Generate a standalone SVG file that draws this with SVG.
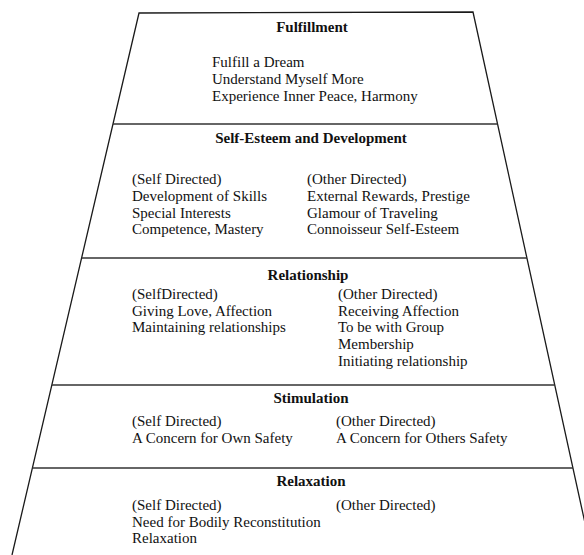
<svg xmlns="http://www.w3.org/2000/svg" width="584" height="555" viewBox="0 0 584 555">
<style>
.edge{fill:none;stroke:#1a1a1a;stroke-width:1.3;stroke-linejoin:miter}
.div{stroke:#333;stroke-width:1.3}
.t{font-family:"Liberation Serif","Times New Roman",serif;font-size:15px;fill:#111}
.h{font-family:"Liberation Serif","Times New Roman",serif;font-size:15px;font-weight:bold;fill:#111;text-anchor:middle}
</style>
<rect width="584" height="555" fill="#fff"/>
<g id="outline">
<path class="edge" d="M12,555 L139,13 L473,12 L592,555"/>
</g>
<g id="dividers">
<line class="div" x1="113" y1="124" x2="497.5" y2="124"/>
<line class="div" x1="81.7" y1="258" x2="527" y2="258"/>
<line class="div" x1="52" y1="385" x2="554.7" y2="385"/>
<line class="div" x1="32.5" y1="468" x2="573" y2="468"/>
</g>
<g id="fulfillment">
<text class="h" x="312" y="32">Fulfillment</text>
<text class="t" x="212" y="67">Fulfill a Dream</text>
<text class="t" x="212" y="84">Understand Myself More</text>
<text class="t" x="212" y="101">Experience Inner Peace, Harmony</text>
</g>
<g id="self-esteem">
<text class="h" x="311" y="143">Self-Esteem and Development</text>
<text class="t" x="132" y="184">(Self Directed)</text>
<text class="t" x="132" y="201">Development of Skills</text>
<text class="t" x="132" y="218">Special Interests</text>
<text class="t" x="132" y="234">Competence, Mastery</text>
<text class="t" x="307" y="184">(Other Directed)</text>
<text class="t" x="307" y="201">External Rewards, Prestige</text>
<text class="t" x="307" y="218">Glamour of Traveling</text>
<text class="t" x="307" y="234">Connoisseur Self-Esteem</text>
</g>
<g id="relationship">
<text class="h" x="308" y="280">Relationship</text>
<text class="t" x="132" y="299">(SelfDirected)</text>
<text class="t" x="132" y="316">Giving Love, Affection</text>
<text class="t" x="132" y="332">Maintaining relationships</text>
<text class="t" x="338" y="299">(Other Directed)</text>
<text class="t" x="338" y="316">Receiving Affection</text>
<text class="t" x="338" y="332">To be with Group</text>
<text class="t" x="338" y="349">Membership</text>
<text class="t" x="338" y="366">Initiating relationship</text>
</g>
<g id="stimulation">
<text class="h" x="311" y="403">Stimulation</text>
<text class="t" x="132" y="426">(Self Directed)</text>
<text class="t" x="132" y="443">A Concern for Own Safety</text>
<text class="t" x="336" y="426">(Other Directed)</text>
<text class="t" x="336" y="443">A Concern for Others Safety</text>
</g>
<g id="relaxation">
<text class="h" x="311" y="486">Relaxation</text>
<text class="t" x="132" y="510">(Self Directed)</text>
<text class="t" x="132" y="527">Need for Bodily Reconstitution</text>
<text class="t" x="132" y="543">Relaxation</text>
<text class="t" x="336" y="510">(Other Directed)</text>
</g>
</svg>
